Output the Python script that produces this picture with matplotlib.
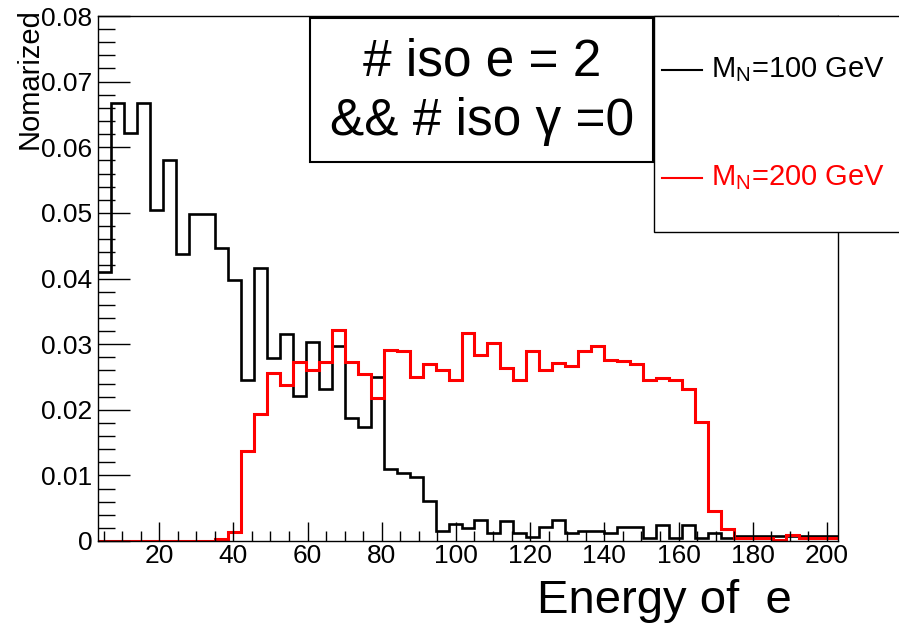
import numpy as np
import matplotlib
matplotlib.use("Agg")
import matplotlib.pyplot as plt
from matplotlib.patches import Rectangle
from matplotlib.lines import Line2D

plt.rcParams["font.family"] = "Liberation Sans"
plt.rcParams["mathtext.fontset"] = "custom"
plt.rcParams["mathtext.rm"] = "Liberation Sans"
plt.rcParams["mathtext.it"] = "Liberation Sans"

# histogram binning (57 bins of 3.5)
x_lo, bin_w, n_bins = 3.5, 3.5, 57
edges = x_lo + bin_w*np.arange(n_bins + 1)

# M_N = 100 GeV
h100 = [0.0410, 0.0668, 0.0622, 0.0668, 0.0504, 0.0580, 0.0437, 0.0498, 0.0498, 0.0446,
        0.0397, 0.0246, 0.0416, 0.0279, 0.0315, 0.0221, 0.0303, 0.0232, 0.0297, 0.0188,
        0.0174, 0.0250, 0.0109, 0.0104, 0.0097, 0.0061, 0.0016, 0.0026, 0.0020, 0.0032,
        0.0012, 0.0031, 0.0012, 0.0006, 0.0021, 0.0032, 0.0012, 0.0016, 0.0016, 0.0012,
        0.0022, 0.0022, 0.0005, 0.0024, 0.0005, 0.0024, 0.0005, 0.0012, 0.0005, 0.0008,
        0.0008, 0.0008, 0.0008, 0.0008, 0.0008, 0.0008, 0.0008]
# M_N = 200 GeV
h200 = [0.0, 0.0, 0.0, 0.0, 0.0, 0.0, 0.0, 0.0, 0.0, 0.0003,
        0.0013, 0.0137, 0.0194, 0.0256, 0.0237, 0.0273, 0.0260, 0.0273, 0.0322, 0.0273,
        0.0255, 0.0218, 0.0291, 0.0289, 0.0250, 0.0269, 0.0260, 0.0246, 0.0317, 0.0284,
        0.0302, 0.0264, 0.0246, 0.0289, 0.0260, 0.0272, 0.0267, 0.0290, 0.0297, 0.0276,
        0.0274, 0.0269, 0.0246, 0.0249, 0.0246, 0.0232, 0.0181, 0.0045, 0.0018, 0.0004,
        0.0004, 0.0004, 0.0002, 0.0009, 0.0005, 0.0005, 0.0005]

xticks = [20, 40, 60, 80, 100, 120, 140, 160, 180, 200]
yticks = [0, 0.01, 0.02, 0.03, 0.04, 0.05, 0.06, 0.07, 0.08]
ylabels = ["0", "0.01", "0.02", "0.03", "0.04", "0.05", "0.06", "0.07", "0.08"]

fig = plt.figure(figsize=(8.99, 6.25), dpi=100)
ax = fig.add_axes([98/899, 1-541/625, 740/899, 525/625])

ax.stairs(h100, edges, color="black", lw=1.9, baseline=None)
ax.stairs(h200, edges, color="red", lw=2.2, baseline=None)

ax.set_xlim(x_lo, edges[-1])
ax.set_ylim(0, 0.08)
ax.set_xticks(xticks)
ax.set_xticks(np.arange(5, 205, 5), minor=True)
ax.set_yticks(yticks)
ax.set_yticklabels(ylabels)
ax.set_yticks(np.arange(0, 0.0801, 0.002), minor=True)
ax.tick_params(axis="both", which="both", direction="in", top=False, right=False,
               labelsize=19, width=1)
ax.tick_params(axis="x", which="major", length=14, pad=2)
ax.tick_params(axis="x", which="minor", length=7)
ax.tick_params(axis="y", which="major", length=23, pad=4)
ax.tick_params(axis="y", which="minor", length=12)
for s in ax.spines.values():
    s.set_linewidth(1)

# cut info box
fig.add_artist(Rectangle((310/899, 1-162/625), 343/899, 144/625, transform=fig.transFigure,
                         facecolor="white", edgecolor="black", lw=1.5, zorder=5))
fig.text(482/899, 1-62/625, "# iso e = 2", fontsize=37, ha="center", va="center", zorder=6)
fig.text(482/899, 1-122/625, "&& # iso \u03b3 =0", fontsize=37, ha="center", va="center", zorder=6)

# legend box
fig.add_artist(Rectangle((654/899, 1-232/625), 260/899, 216/625, transform=fig.transFigure,
                         facecolor="white", edgecolor="black", lw=1, zorder=5))
fig.add_artist(Line2D([662/899, 702/899], [1-70/625, 1-70/625], transform=fig.transFigure,
                      color="black", lw=1.5, zorder=6))
fig.text(711/899, 1-70/625, r"M$_{\rm N}$=100 GeV", fontsize=21, ha="left", va="center",
         color="black", zorder=6)
fig.add_artist(Line2D([662/899, 702/899], [1-178/625, 1-178/625], transform=fig.transFigure,
                      color="red", lw=1.5, zorder=6))
fig.text(711/899, 1-178/625, r"M$_{\rm N}$=200 GeV", fontsize=21, ha="left", va="center",
         color="red", zorder=6)

fig.text(30/899, 1-8/625, "Nomarized", fontsize=21, rotation=90, ha="center", va="top")
fig.text(792/899, 1-613/625, "Energy of  e", fontsize=34, ha="right", va="baseline")

fig.savefig("out.png", dpi=100)
